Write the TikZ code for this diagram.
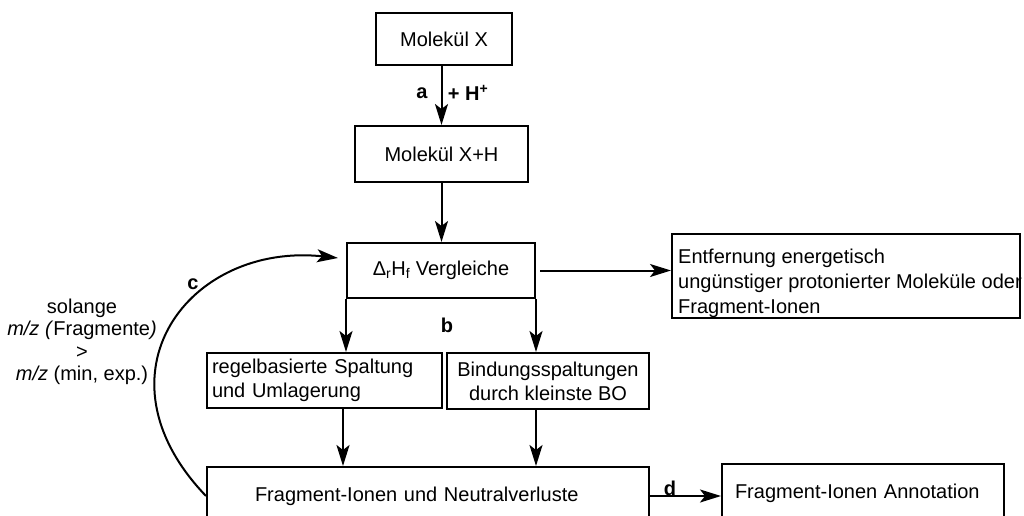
\documentclass[tikz,border=0pt]{standalone}
\usepackage{fontspec}
\setmainfont{Liberation Sans}
\usetikzlibrary{arrows.meta,calc}
\begin{document}
\begin{tikzpicture}[x=1pt,y=-1pt,
  every node/.style={font=\fontsize{20}{24}\selectfont},
  box/.style={draw,line width=2pt,inner sep=0pt,align=center},
  arr/.style={line width=2pt,-{Stealth[length=21pt,width=13pt,inset=5pt]}},
  lbl/.style={font=\fontsize{20}{24}\selectfont\bfseries,inner sep=0pt}]
\useasboundingbox (0,0) rectangle (1024,516);
\clip (0,0) rectangle (1024,516);

% main chain
\node[box,minimum width=136pt,minimum height=52pt] (mx) at (444,39) {Molekül X};
\node[box,minimum width=173pt,minimum height=56pt] (mxh) at (441.5,154) {Molekül X+H};
\node[box,minimum width=188pt,minimum height=55pt] (dh) at (441,270.5)
  {Δ\textsubscript{r}H\textsubscript{f} Vergleiche};

% discarded candidates
\node[box,minimum width=348pt,minimum height=84pt] (ent) at (846,276) {};
\node[anchor=north west,inner sep=0pt,align=left,font=\fontsize{20}{25}\selectfont]
  (enttxt) at (678,248.5)
  {Entfernung energetisch\\ungünstiger protonierter Moleküle oder\\Fragment-Ionen};

% the two cleavage routes
\node[box,text width=225pt,inner xsep=5pt,minimum height=55pt,align=left] (reg) at (324.5,380.5)
  {regelbasierte Spaltung\\und Umlagerung};
\node[box,minimum width=202pt,minimum height=56pt] (bind) at (548,381)
  {Bindungsspaltungen\\durch kleinste BO};

% results
\node[box,text width=346pt,inner xsep=48pt,minimum height=58pt,align=left] (frag) at (428,496)
  {Fragment-Ionen und Neutralverluste};
\node[box,text width=256pt,inner xsep=13pt,minimum height=58pt,align=left] (ann) at (863,493)
  {Fragment-Ionen Annotation};

% loop condition
\node[align=center,inner sep=0pt,font=\fontsize{20}{22.5}\selectfont] (cond) at (82,342)
  {solange\\\textit{m/z (}Fragmente\textit{)}\\>\\\textit{m/z} (min, exp.)};

% connectors
\draw[arr] (mx.south -| mxh.north) -- (mxh.north);
\draw[arr] (mxh.south) -- (mxh.south |- dh.north);
\draw[arr] ([xshift=4pt]dh.east) -- (ent.west |- dh.east);
\draw[arr] (dh.south west) -- (dh.south west |- reg.north);
\draw[arr] (dh.south east) -- (dh.south east |- bind.north);
\draw[arr] ([xshift=18.5pt]reg.south) -- ([xshift=18.5pt]reg.south |- frag.north);
\draw[arr] (bind.south -| dh.south east) -- (dh.south east |- frag.north);
\draw[arr] (frag.east) -- (frag.east -| ann.west);
\coordinate (cend) at (338,258);
\draw[arr] (frag.west) .. controls (89,374) and (189,242) .. (cend);

% step labels
\node[lbl] (la) at (422,93) {a};
\node[lbl] (lh) at (468,93) {+ H\textsuperscript{+}};
\node[lbl] (lb) at (447,325) {b};
\node[lbl] (lc) at (193,284) {c};
\node[lbl] (ld) at (670,488) {d};
\end{tikzpicture}
\end{document}
